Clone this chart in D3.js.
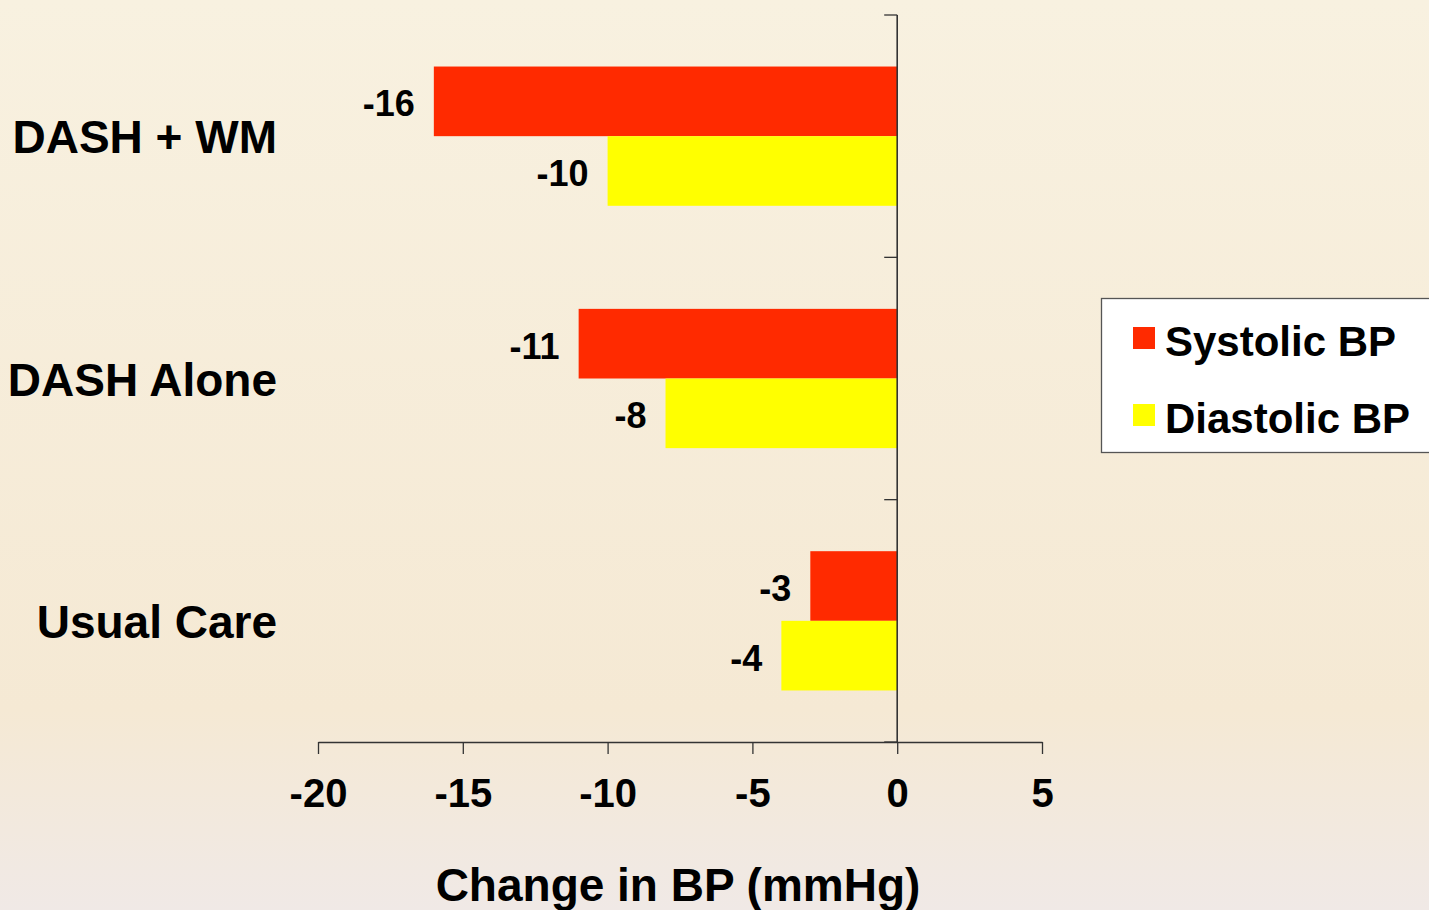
<!DOCTYPE html>
<html><head><meta charset="utf-8">
<script src="https://cdn.jsdelivr.net/npm/d3@7/dist/d3.min.js"></script>
<style>html,body{margin:0;padding:0;overflow:hidden;}svg{display:block;}text{font-family:"Liberation Sans",Arial,sans-serif;font-weight:bold;fill:#000;}</style>
</head><body>
<script>
const categories = ["DASH + WM", "DASH Alone", "Usual Care"];
const seriesNames = ["Systolic BP", "Diastolic BP"];
const systolic = [-16, -11, -3];
const diastolic = [-10, -8, -4];
const xTicks = [-20, -15, -10, -5, 0, 5];
const colors = ["#ff2a00", "#ffff00"];

const W = 1429, H = 910;
const svg = d3.select("body").append("svg").attr("width", W).attr("height", H);
const defs = svg.append("defs");
const g = defs.append("linearGradient").attr("id","bg").attr("x1",0).attr("y1",0).attr("x2",0).attr("y2",1);
g.append("stop").attr("offset","0").attr("stop-color","#f8f1e0");
g.append("stop").attr("offset","0.78").attr("stop-color","#f5e9d4");
g.append("stop").attr("offset","1").attr("stop-color","#f0e9e6");
svg.append("rect").attr("width",W).attr("height",H).attr("fill","url(#bg)");

const x = d3.scaleLinear().domain([-20, 5]).range([318, 1042]);
const y0 = d3.scaleBand().domain(categories).range([15, 742]).padding(0);
const y1 = d3.scaleBand().domain(seriesNames).range([0, y0.bandwidth()]).paddingInner(0).paddingOuter(0.74);

const data = categories.map((c, i) => ({cat: c, vals: [systolic[i], diastolic[i]]}));

// bars
const grp = svg.append("g");
data.forEach(d => {
  d.vals.forEach((v, j) => {
    const yy = y0(d.cat) + y1(seriesNames[j]);
    grp.append("rect")
      .attr("x", x(v)).attr("y", yy)
      .attr("width", x(0) - x(v)).attr("height", y1.bandwidth())
      .attr("fill", colors[j]);
    grp.append("text")
      .attr("x", x(v) - 19).attr("y", yy + y1.bandwidth()/2 + 15)
      .attr("text-anchor", "end").attr("font-size", 36)
      .text(v);
  });
});

// y axis
svg.append("line").attr("x1", x(0)).attr("x2", x(0)).attr("y1", 15).attr("y2", 742)
  .attr("stroke", "#333").attr("stroke-width", 1.6);
const bounds = categories.map(c => y0(c)).concat([742]);
bounds.forEach(b => svg.append("line").attr("x1", x(0) - 13).attr("x2", x(0)).attr("y1", b).attr("y2", b)
  .attr("stroke", "#333").attr("stroke-width", 1.3));
categories.forEach(c => {
  svg.append("text").attr("x", 277).attr("y", y0(c) + y0.bandwidth()/2 + 17)
    .attr("text-anchor", "end").attr("font-size", 46).text(c);
});

// x axis
const xa = svg.append("g").attr("transform", "translate(0,742)")
  .call(d3.axisBottom(x).tickValues(xTicks).tickSize(12).tickSizeOuter(0).tickPadding(25).tickFormat(d3.format("d")));
xa.select(".domain").attr("stroke", "#333").attr("stroke-width", 1.3);
xa.selectAll(".tick line").attr("stroke", "#333").attr("stroke-width", 1.3);
xa.selectAll(".tick text").attr("font-size", 40).attr("font-family", "Liberation Sans, Arial, sans-serif").attr("font-weight", "bold").attr("fill", "#000");
svg.selectAll(".tick text").text(d => d < 0 ? "-" + Math.abs(d) : d);

svg.append("text").attr("x", 678).attr("y", 901).attr("text-anchor", "middle")
  .attr("font-size", 46).text("Change in BP (mmHg)");

// legend
const lg = svg.append("g");
lg.append("rect").attr("x", 1101.5).attr("y", 298.5).attr("width", 340).attr("height", 154)
  .attr("fill", "#fff").attr("stroke", "#555").attr("stroke-width", 1.3);
seriesNames.forEach((s, j) => {
  const yy = 327 + j * 77;
  lg.append("rect").attr("x", 1133).attr("y", yy).attr("width", 22).attr("height", 22).attr("fill", colors[j]);
  lg.append("text").attr("x", 1165).attr("y", yy + 29).attr("font-size", 42).text(s);
});
</script>
</body></html>
